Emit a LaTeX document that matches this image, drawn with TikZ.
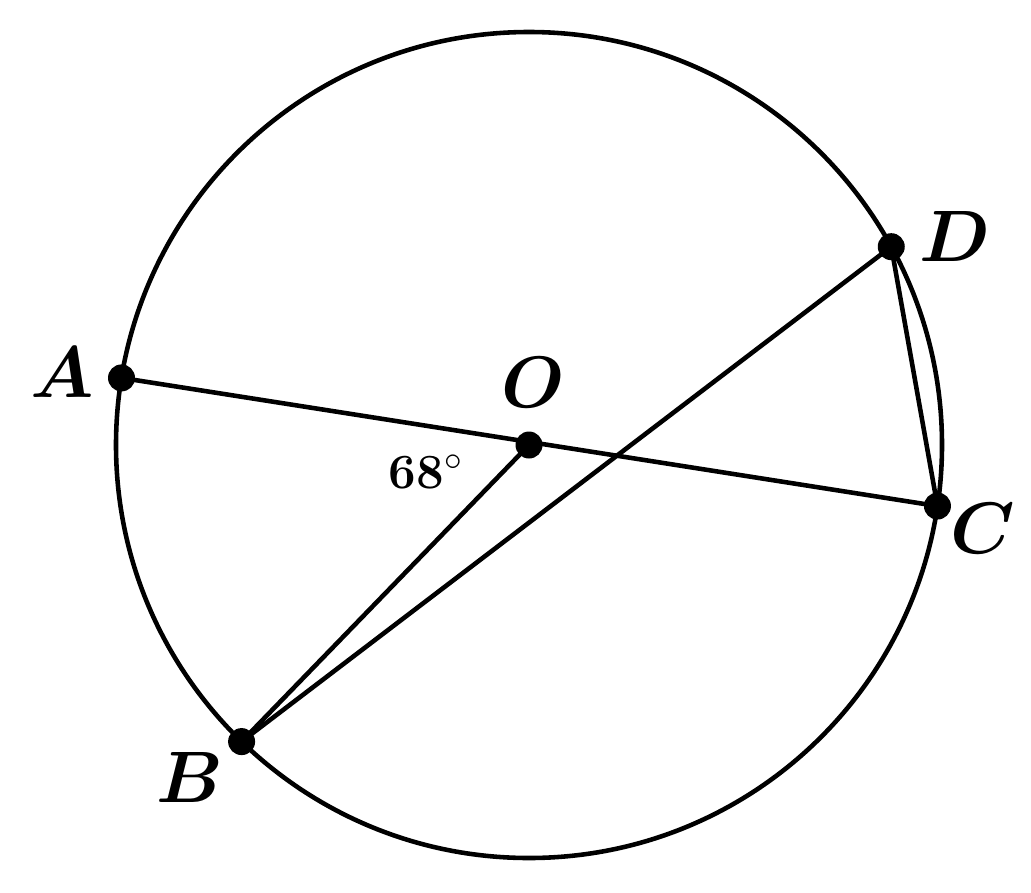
\documentclass[tikz,border=0pt]{standalone}
\usetikzlibrary{calc}
\begin{document}
\begin{tikzpicture}[x=1cm,y=1cm,
  ln/.style={line width=1.3pt},
  dot/.style={circle,fill=black,inner sep=0pt,minimum size=0.27cm},
  lab/.style={font=\fontsize{19.5}{21}\selectfont\boldmath},
  anglab/.style={font=\fontsize{14}{15}\selectfont\bfseries}]
\useasboundingbox (0,0) rectangle (10.31,-8.92);
\coordinate (O) at (5.29,-4.45);
\coordinate (A) at ($(O)+(170.65:4.13)$);
\coordinate (C) at ($(O)+(351.5:4.13)$);
\coordinate (D) at ($(O)+(28.7:4.13)$);
\coordinate (B) at ($(O)+(225.9:4.13)$);
\draw[ln] (O) circle (4.13);
\draw[ln] (A) -- (C);
\draw[ln] (O) -- (B);
\draw[ln] (B) -- (D);
\draw[ln] (D) -- (C);
\foreach \p in {A,B,C,D,O} \node[dot] (dot\p) at (\p) {};
\node[lab] (lA) at (0.62,-3.72) {$A$};
\node[lab] (lO) at (5.33,-3.82) {$O$};
\node[lab] (lD) at (9.55,-2.36) {$D$};
\node[lab] (lC) at (9.83,-5.28) {$C$};
\node[lab] (lB) at (1.90,-7.77) {$B$};
\node[anglab] (ang) at (4.26,-4.72) {68$^\circ$};
\end{tikzpicture}
\end{document}
